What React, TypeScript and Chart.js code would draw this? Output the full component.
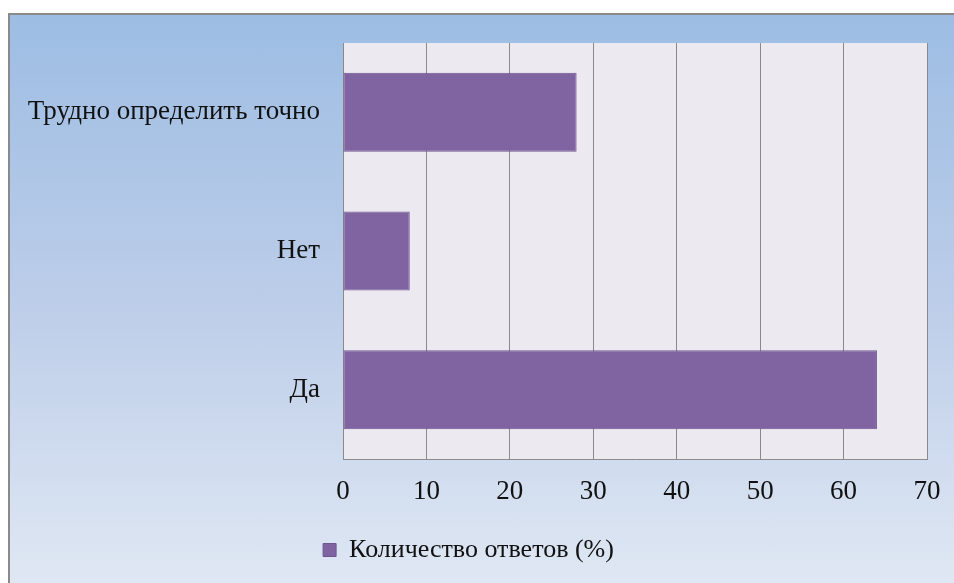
import React, { useEffect, useRef } from "react";
import { Chart, registerables } from "chart.js";

Chart.register(...registerables);

const categories = ["Трудно определить точно", "Нет", "Да"];
const seriesLabel = "Количество ответов (%)";
const seriesValues = [28, 8, 64];
const axisMin = 0;
const axisMax = 70;
const axisStep = 10;

const FONT = "'Liberation Serif', 'Times New Roman', serif";

const plotBg = {
  id: "plotBg",
  beforeDraw(chart: any) {
    const { ctx, chartArea } = chart;
    if (!chartArea) return;
    ctx.save();
    ctx.fillStyle = "#ECEAF0";
    ctx.fillRect(chartArea.left, chartArea.top, chartArea.right - chartArea.left, chartArea.bottom - chartArea.top);
    ctx.restore();
  },
};

export default function App() {
  const ref = useRef<HTMLCanvasElement | null>(null);
  useEffect(() => {
    if (!ref.current) return;
    const chart = new Chart(ref.current, {
      type: "bar",
      data: {
        labels: categories,
        datasets: [
          {
            label: seriesLabel,
            data: seriesValues,
            backgroundColor: "#8064A2",
            borderColor: "#6F5590",
            borderWidth: 1,
            borderSkipped: false,
            categoryPercentage: 1,
            barPercentage: 0.57,
          },
        ],
      },
      options: {
        indexAxis: "y",
        animation: false,
        responsive: false,
        maintainAspectRatio: false,
        layout: { padding: { left: 0, top: 28, right: 27, bottom: 10 } },
        plugins: {
          legend: {
            position: "bottom",
            align: "center",
            labels: {
              boxWidth: 13,
              boxHeight: 13,
              padding: 8,
              color: "#111",
              font: { family: FONT, size: 26 },
            },
          },
          tooltip: { enabled: false },
        },
        scales: {
          x: {
            type: "linear",
            min: axisMin,
            max: axisMax,
            ticks: {
              stepSize: axisStep,
              padding: 17,
              color: "#111",
              font: { family: FONT, size: 27 },
            },
            grid: { display: true, color: "#8A8A8A", lineWidth: 1, drawTicks: false },
            border: { display: true, color: "#8A8A8A", width: 1 },
            afterFit(scale: any) {
              scale.height = 70;
              scale.paddingLeft = 0;
              scale.paddingRight = 0;
            },
          },
          y: {
            ticks: {
              padding: 23,
              color: "#111",
              font: { family: FONT, size: 27 },
            },
            grid: { display: false, drawTicks: false },
            border: { display: true, color: "#8A8A8A", width: 1 },
            afterFit(scale: any) {
              scale.width = 333;
              scale.paddingTop = 0;
              scale.paddingBottom = 0;
            },
          },
        },
      },
      plugins: [plotBg],
    });
    return () => chart.destroy();
  }, []);

  return (
    <div
      style={{
        position: "fixed",
        left: 8,
        top: 13,
        width: 946,
        height: 570,
        boxSizing: "border-box",
        borderTop: "2px solid #8A8A8A",
        borderLeft: "2px solid #8A8A8A",
        background: "linear-gradient(to bottom, #9DBDE3 0%, #BCCDE9 50%, #DFE7F3 100%)",
      }}
    >
      <canvas ref={ref} width={944} height={568} style={{ display: "block" }} />
    </div>
  );
}
